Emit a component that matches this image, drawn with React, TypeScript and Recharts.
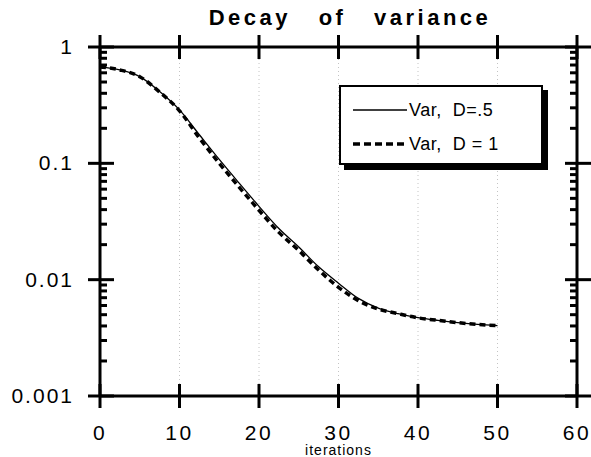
import React from 'react';
import { LineChart, Line, XAxis, YAxis, CartesianGrid } from 'recharts';

const iterations = [0, 2.5, 5, 7.5, 10, 12.5, 15, 17.5, 20, 22.5, 25, 27.5, 30, 32.5, 35, 37.5, 40, 42.5, 45, 47.5, 50];
const varHalf = [0.674, 0.635, 0.556, 0.414, 0.288, 0.176, 0.108, 0.0676, 0.0427, 0.0275, 0.0191, 0.0129, 0.00933, 0.0069, 0.0057, 0.0051, 0.00472, 0.00447, 0.00427, 0.00412, 0.00403];
const varOne = [0.674, 0.635, 0.556, 0.41, 0.283, 0.165, 0.1, 0.0625, 0.0395, 0.0255, 0.0178, 0.0121, 0.0086, 0.0066, 0.0056, 0.0051, 0.0047, 0.00447, 0.00427, 0.00412, 0.00403];

const xTicks = [0, 10, 20, 30, 40, 50, 60];
const yMajor = [0.001, 0.01, 0.1, 1];
const yMinorSteps = [2, 3, 4, 5, 6, 7, 8, 9];

const yTicks = [
  ...yMajor,
  ...yMajor.slice(0, -1).flatMap((d) => yMinorSteps.map((m) => m * d)),
];

const data = iterations.map((it, i) => ({ it, half: varHalf[i], one: varOne[i] }));

const FONT = '"Liberation Sans", Arial, Helvetica, sans-serif';

const isMajor = (v: number) => yMajor.includes(v);

const LeftTick = ({ x, y, payload }: any) => {
  const major = isMajor(payload.value);
  return (
    <g>
      <line x1={major ? x - 12 : x} x2={major ? x + 14 : x + 7} y1={y} y2={y} stroke="#000" strokeWidth={3} />
      {major && (
        <text x={x - 26} y={y} dy={7} textAnchor="end" fontFamily={FONT} fontSize={21} letterSpacing={2} fill="#000">
          {String(payload.value)}
        </text>
      )}
    </g>
  );
};

const RightTick = ({ x, y, payload }: any) => {
  const major = isMajor(payload.value);
  return <line x1={major ? x - 12 : x - 7} x2={major ? x + 14 : x} y1={y} y2={y} stroke="#000" strokeWidth={3} />;
};

const BottomTick = ({ x, y, payload }: any) => (
  <g>
    <line x1={x} x2={x} y1={y - 12} y2={y + 12} stroke="#000" strokeWidth={3} />
    <text x={x} y={y + 44} textAnchor="middle" fontFamily={FONT} fontSize={21} letterSpacing={2.5} fill="#000">
      {payload.value}
    </text>
  </g>
);

const TopTick = ({ x, y }: any) => (
  <line x1={x} x2={x} y1={y - 12} y2={y + 12} stroke="#000" strokeWidth={3} />
);

const LegendBox = () => (
  <div
    style={{
      position: 'absolute',
      left: 339,
      top: 85,
      width: 200,
      height: 76,
      border: '2px solid #000',
      boxShadow: '5px 5px 0 #000',
      background: '#fff',
      fontFamily: FONT,
      fontSize: 18,
      letterSpacing: 0.5,
      boxSizing: 'content-box',
    }}
  >
    <div style={{ display: 'flex', alignItems: 'center', height: 34, marginTop: 6, paddingLeft: 12 }}>
      <svg width={56} height={10}>
        <line x1={0} x2={54} y1={5} y2={5} stroke="#000" strokeWidth={1.3} />
      </svg>
      <span>Var,&nbsp; D=.5</span>
    </div>
    <div style={{ display: 'flex', alignItems: 'center', height: 34, paddingLeft: 12 }}>
      <svg width={56} height={10}>
        <line x1={0} x2={54} y1={5} y2={5} stroke="#000" strokeWidth={3.5} strokeDasharray="7 4" />
      </svg>
      <span>Var,&nbsp; D = 1</span>
    </div>
  </div>
);

export default function App() {
  return (
    <div style={{ position: 'absolute', left: 0, top: 0, width: 591, height: 457, background: '#fff', overflow: 'hidden' }}>
      <div
        style={{
          position: 'absolute',
          left: 0,
          width: 591,
          top: 5,
          paddingLeft: 109,
          boxSizing: 'border-box',
          textAlign: 'center',
          fontFamily: FONT,
          fontWeight: 'bold',
          fontSize: 22,
          letterSpacing: 3.5,
          wordSpacing: 18,
          zIndex: 2,
        }}
      >
        Decay of variance
      </div>
      <LineChart width={591} height={457} data={data} margin={{ top: 0, right: 0, bottom: 0, left: 0 }}>
        <CartesianGrid xAxisId="b" yAxisId="l" horizontal={false} stroke="#c4c4c4" strokeDasharray="1 3" />
        <XAxis
          xAxisId="b"
          dataKey="it"
          type="number"
          domain={[0, 60]}
          ticks={xTicks}
          interval={0}
          height={61}
          tickSize={0}
          tickMargin={0}
          tickLine={false}
          axisLine={{ stroke: '#000', strokeWidth: 3 }}
          tick={<BottomTick />}
          label={{ value: 'iterations', position: 'insideBottom', offset: 2, fontSize: 14, fontFamily: FONT, fill: '#000', letterSpacing: 1 }}
        />
        <XAxis
          xAxisId="t"
          dataKey="it"
          type="number"
          orientation="top"
          domain={[0, 60]}
          ticks={xTicks}
          interval={0}
          height={47}
          tickSize={0}
          tickMargin={0}
          tickLine={false}
          axisLine={{ stroke: '#000', strokeWidth: 3 }}
          tick={<TopTick />}
        />
        <YAxis
          yAxisId="l"
          scale="log"
          domain={[0.001, 1]}
          ticks={yTicks}
          interval={0}
          width={100}
          tickSize={0}
          tickMargin={0}
          tickLine={false}
          allowDataOverflow
          axisLine={{ stroke: '#000', strokeWidth: 3 }}
          tick={<LeftTick />}
        />
        <YAxis
          yAxisId="r"
          orientation="right"
          scale="log"
          domain={[0.001, 1]}
          ticks={yTicks}
          interval={0}
          width={14}
          tickSize={0}
          tickMargin={0}
          tickLine={false}
          allowDataOverflow
          axisLine={{ stroke: '#000', strokeWidth: 3 }}
          tick={<RightTick />}
        />
        <Line
          xAxisId="b"
          yAxisId="l"
          dataKey="half"
          name="Var, D=.5"
          type="monotone"
          stroke="#000"
          strokeWidth={1.3}
          dot={false}
          isAnimationActive={false}
        />
        <Line
          xAxisId="b"
          yAxisId="l"
          dataKey="one"
          name="Var, D = 1"
          type="monotone"
          stroke="#000"
          strokeWidth={3.5}
          strokeDasharray="6 4"
          dot={false}
          isAnimationActive={false}
        />
      </LineChart>
      <LegendBox />
    </div>
  );
}
